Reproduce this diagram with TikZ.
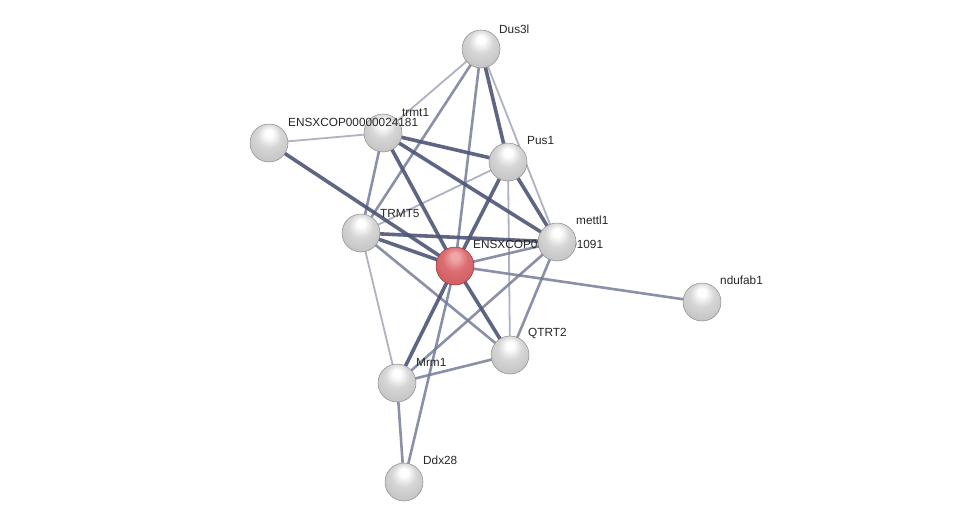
\documentclass[tikz,border=0pt]{standalone}
\usepackage{fontspec}
\setmainfont{Liberation Sans}
\definecolor{ethick}{RGB}{78,86,118}
\definecolor{emed}{RGB}{118,125,152}
\definecolor{ethin}{RGB}{160,165,185}
\definecolor{rlight}{RGB}{240,165,168}
\definecolor{rmid}{RGB}{220,110,114}
\definecolor{rbody}{RGB}{205,92,97}
\definecolor{rdark}{RGB}{150,55,60}
\pgfdeclareradialshading{graysphere}{\pgfpoint{0bp}{14bp}}{%
  color(0bp)=(white); color(5bp)=(white); color(16bp)=(black!16);
  color(32bp)=(black!24); color(43bp)=(black!28); color(47bp)=(black!45); color(50bp)=(black!60)}
\pgfdeclareradialshading{redsphere}{\pgfpoint{0bp}{14bp}}{%
  color(0bp)=(rlight); color(5bp)=(rlight); color(16bp)=(rmid);
  color(32bp)=(rbody); color(43bp)=(rbody); color(47bp)=(rdark); color(50bp)=(rdark)}
\tikzset{
  ball/.style={circle,minimum size=38pt,inner sep=0pt,shading=graysphere,draw=black!45,line width=0.5pt},
  redb/.style={circle,minimum size=38pt,inner sep=0pt,shading=redsphere,draw=rdark,line width=0.5pt},
  lab/.style={anchor=west,font=\fontsize{11.8}{14}\selectfont,text=black!85,inner sep=0pt},
  e3/.style={draw=ethick,line width=3.6pt,opacity=0.9},
  e2/.style={draw=emed,line width=2.6pt,opacity=0.85},
  e1/.style={draw=ethin,line width=1.8pt,opacity=0.85}
}
\begin{document}
\begin{tikzpicture}[x=1pt,y=-1pt]
\useasboundingbox[fill=white] (0,0) rectangle (976,527);
% node coordinates
\coordinate (dus) at (481,49);
\coordinate (trm) at (383,133);
\coordinate (e24) at (269,143);
\coordinate (pus) at (508,162);
\coordinate (tr5) at (361,233);
\coordinate (met) at (557,242);
\coordinate (red) at (455,266);
\coordinate (ndu) at (702,302);
\coordinate (qtr) at (510,355);
\coordinate (mrm) at (397,383);
\coordinate (ddx) at (404,482);
% edges
\path[e1] (dus) -- (trm);
\path[e1] (dus) -- (met);
\path[e1] (trm) -- (e24);
\path[e1] (pus) -- (tr5);
\path[e1] (pus) -- (qtr);
\path[e1] (tr5) -- (mrm);
\path[e2] (dus) -- (red);
\path[e2] (dus) -- (tr5);
\path[e2] (trm) -- (tr5);
\path[e2] (tr5) -- (qtr);
\path[e2] (red) -- (ndu);
\path[e2] (red) -- (ddx);
\path[e2] (met) -- (qtr);
\path[e2] (met) -- (mrm);
\path[e2] (mrm) -- (ddx);
\path[e2] (red) -- (met);
\path[e2] (qtr) -- (mrm);
\path[e3] (trm) -- (red);
\path[e3] (trm) -- (pus);
\path[e3] (trm) -- (met);
\path[e3] (e24) -- (red);
\path[e3] (pus) -- (red);
\path[e3] (tr5) -- (met);
\path[e3] (tr5) -- (red);
\path[e3] (red) -- (qtr);
\path[e3] (red) -- (mrm);
\path[e3] (dus) -- (pus);
\path[e3] (pus) -- (met);
% nodes and labels
\node[ball] (Ndus) at (dus) {};
\node[lab] (Ldus) at (499,29) {Dus3l};
\node[lab] (Ltrm) at (402,112) {trmt1};
\node[ball] (Ntrm) at (trm) {};
\node[ball] (Ne24) at (e24) {};
\node[lab] (Le24) at (288,122) {ENSXCOP00000024181};
\node[ball] (Npus) at (pus) {};
\node[lab] (Lpus) at (527,140) {Pus1};
\node[ball] (Ntr5) at (tr5) {};
\node[lab] (Ltr5) at (380,213) {TRMT5};
\node[redb] (Nred) at (red) {};
\node[lab] (Lred) at (473,244) {ENSXCOP00000001091};
\node[ball] (Nmet) at (met) {};
\node[lab] (Lmet) at (576,220) {mettl1};
\node[ball] (Nndu) at (ndu) {};
\node[lab] (Lndu) at (720,280) {ndufab1};
\node[ball] (Nqtr) at (qtr) {};
\node[lab] (Lqtr) at (528,333) {QTRT2};
\node[ball] (Nmrm) at (mrm) {};
\node[lab] (Lmrm) at (416,362) {Mrm1};
\node[ball] (Nddx) at (ddx) {};
\node[lab] (Lddx) at (423,460) {Ddx28};
\end{tikzpicture}
\end{document}
